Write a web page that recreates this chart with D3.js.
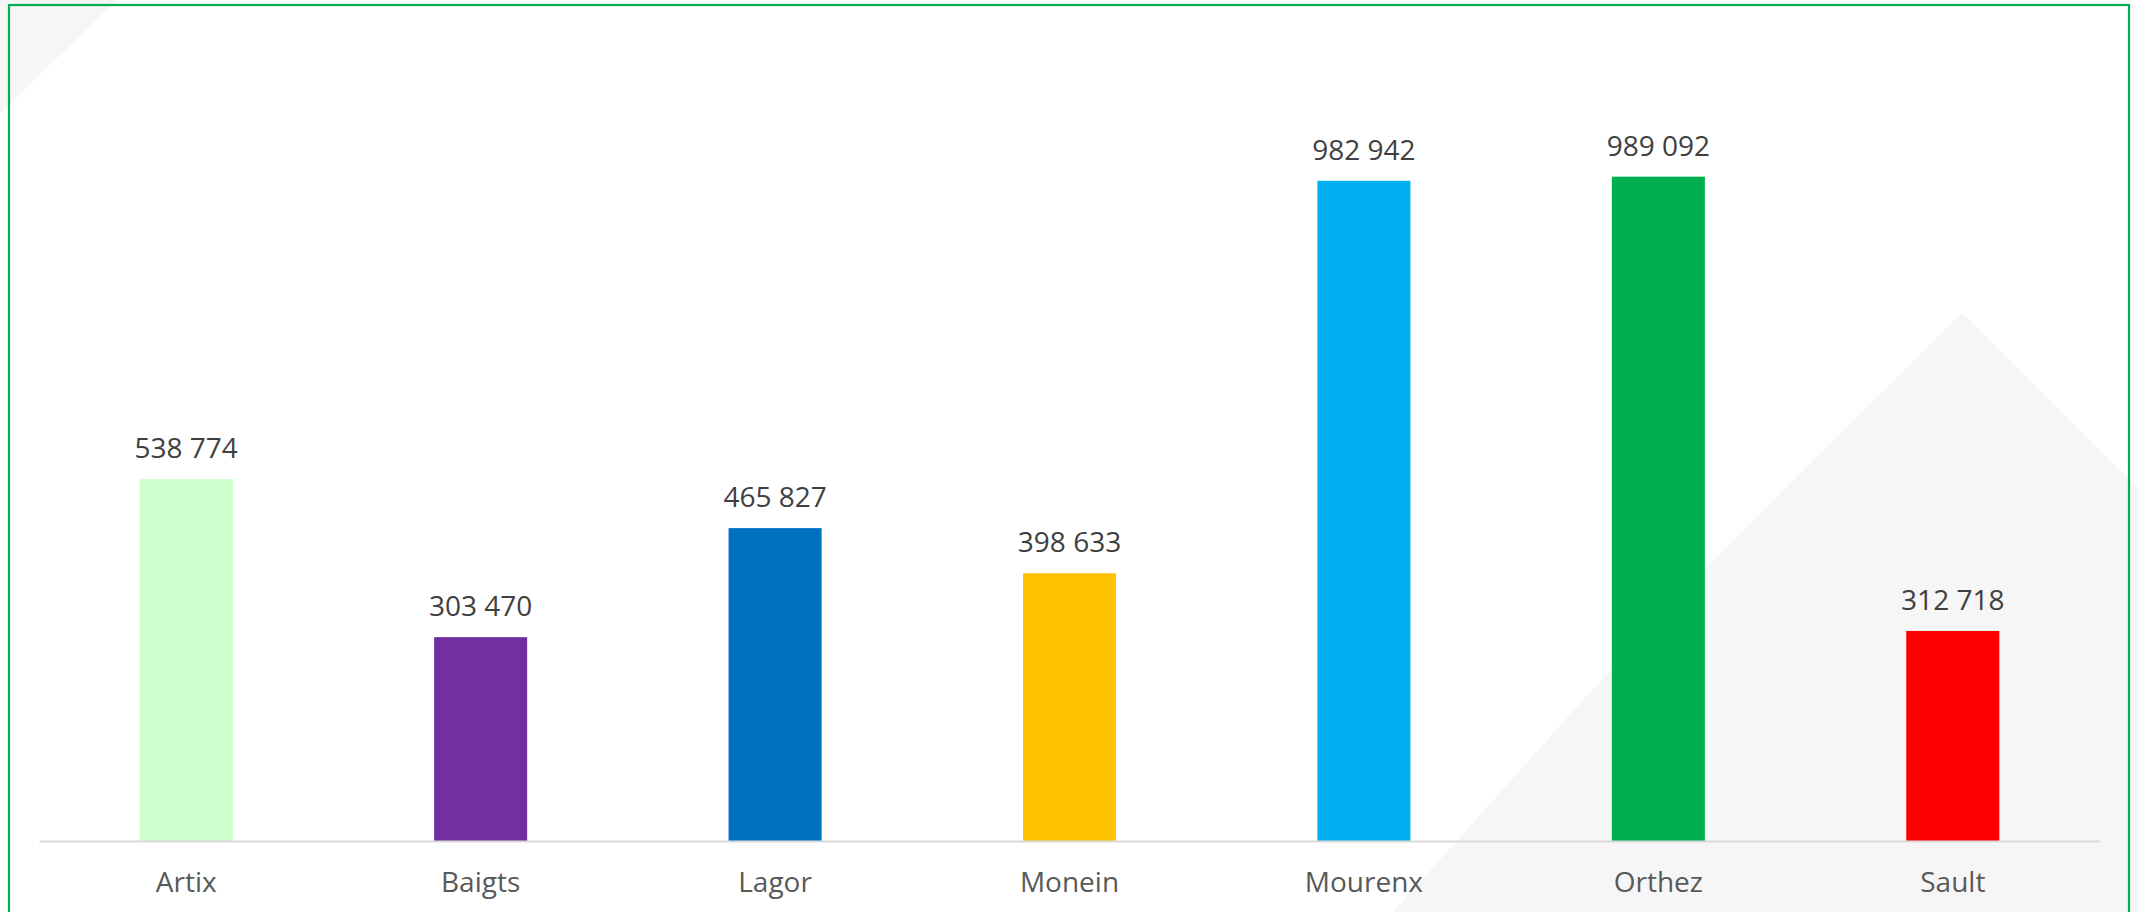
<!DOCTYPE html>
<html>
<head>
<meta charset="utf-8">
<script src="https://cdn.jsdelivr.net/npm/d3@7"></script>
<style>
  html, body { margin: 0; padding: 0; background: #ffffff; overflow: hidden; }
  svg { display: block; }
</style>
</head>
<body>
<svg id="chart" width="2139" height="912"></svg>
<script>
const categories = ["Artix", "Baigts", "Lagor", "Monein", "Mourenx", "Orthez", "Sault"];
const values = [538774, 303470, 465827, 398633, 982942, 989092, 312718];
const barColors = ["#ccffcc", "#7030a0", "#0070c0", "#ffc000", "#00b0f0", "#00b050", "#ff0000"];

const W = 2139, H = 912;
const svg = d3.select("#chart");

// background decorations
svg.append("rect").attr("x", 0).attr("y", 0).attr("width", W).attr("height", H).attr("fill", "#ffffff");
svg.append("polygon")
  .attr("points", [[0,0],[117,0],[0,113]].map(p => p.join(",")).join(" "))
  .attr("fill", "#f6f6f6");
svg.append("polygon")
  .attr("points", [[1962,313],[2139,490],[2139,912],[1393,912],[1583,700],[1707,567],[1800,473]].map(p => p.join(",")).join(" "))
  .attr("fill", "#f6f6f6");

// frame
svg.append("rect")
  .attr("x", 9).attr("y", 5).attr("width", 2120).attr("height", 930)
  .attr("fill", "none").attr("stroke", "#00b050").attr("stroke-width", 2.2);

const x = d3.scaleBand().domain(categories).range([39, 2100])
  .paddingInner(0.684).paddingOuter(0.342);
const y = d3.scaleLinear().domain([0, 1200000]).range([841, 35]);

const fmt = v => d3.format(",")(v).replace(/,/g, " ");

const data = categories.map((c, i) => ({ c, v: values[i], col: barColors[i] }));

svg.append("g").selectAll("rect").data(data).join("rect")
  .attr("x", d => x(d.c))
  .attr("y", d => y(d.v))
  .attr("width", x.bandwidth())
  .attr("height", d => y(0) - y(d.v))
  .attr("fill", d => d.col);

// axis
const axis = svg.append("g").attr("transform", `translate(0,${y(0)})`)
  .call(d3.axisBottom(x).tickSize(0).tickPadding(31));
axis.select(".domain").attr("stroke", "#d9d9d9").attr("stroke-width", 2.2);
axis.selectAll("text")
  .attr("fill", "#595959")
  .style("font-family", "'Open Sans', sans-serif")
  .style("font-size", "28px");

// value labels
svg.append("g").selectAll("text").data(data).join("text")
  .attr("x", d => x(d.c) + x.bandwidth() / 2)
  .attr("y", d => y(d.v) - 21)
  .attr("text-anchor", "middle")
  .attr("fill", "#404040")
  .style("font-family", "'Open Sans', sans-serif")
  .style("font-size", "28px")
  .text(d => fmt(d.v));
</script>
</body>
</html>
